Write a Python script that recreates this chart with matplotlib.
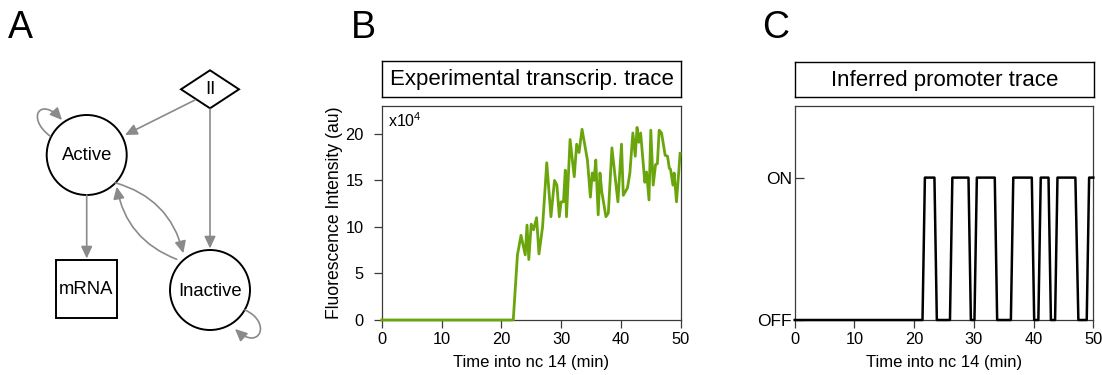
import matplotlib
matplotlib.use("Agg")
import matplotlib.pyplot as plt
from matplotlib.patches import Circle, Polygon, Rectangle, FancyArrowPatch
from matplotlib.path import Path

plt.rcParams['font.family'] = ['Liberation Sans', 'DejaVu Sans']
plt.rcParams['mathtext.fontset'] = 'custom'
plt.rcParams['mathtext.rm'] = 'Liberation Sans'
plt.rcParams['mathtext.it'] = 'Liberation Sans:italic'

# ---------------- data ----------------
trace_time = [0.0, 22.0, 22.7, 23.3, 24.0, 24.3, 24.6, 25.0, 25.4, 25.9, 26.3, 26.9,
              27.6, 28.3, 28.9, 29.3, 29.7, 30.0, 30.4, 30.7, 30.9, 31.5, 32.2, 32.6,
              33.0, 33.5, 34.4, 34.9, 35.2, 35.5, 35.8, 36.2, 36.5, 36.8, 37.5, 37.9,
              38.5, 39.5, 40.1, 40.4, 41.1, 41.5, 42.0, 42.4, 42.7, 43.0, 43.3, 44.0,
              44.3, 44.7, 45.0, 45.4, 45.8, 46.1, 46.4, 46.8, 47.4, 47.8, 48.1, 48.3,
              48.7, 48.9, 49.3, 49.9]
trace_fluor = [0.0, 0.0, 7.0, 9.1, 7.0, 10.2, 6.5, 10.3, 9.7, 11.0, 7.1, 10.0,
               16.9, 11.1, 15.0, 14.5, 11.1, 12.7, 12.7, 16.1, 11.1, 19.4, 15.4, 18.9,
               18.0, 20.5, 17.2, 13.2, 15.8, 15.0, 17.2, 11.3, 15.8, 13.8, 11.1, 11.5,
               18.5, 12.7, 18.9, 13.4, 14.2, 15.8, 20.1, 17.6, 20.7, 19.1, 20.1, 14.8,
               15.9, 12.9, 20.4, 14.5, 16.7, 16.8, 20.4, 20.1, 17.7, 17.6, 16.3, 16.2,
               14.5, 15.8, 12.7, 17.9]  # x10^4 au

promoter_time = [0.0, 21.4, 21.8, 23.4, 23.8, 26.0, 26.4, 29.1, 29.5, 30.1, 30.5,
                 33.5, 33.9, 36.2, 36.6, 39.7, 40.1, 40.8, 41.2, 42.5, 42.9, 43.6,
                 44.0, 47.0, 47.5, 48.9, 49.3, 50.0]
promoter_state = [0, 0, 1, 1, 0, 0, 1, 1, 0, 0, 1,
                  1, 0, 0, 1, 1, 0, 0, 1, 1, 0, 0,
                  1, 1, 0, 0, 1, 1]

x_ticks = [0, 10, 20, 30, 40, 50]
y_ticks_B = [0, 5, 10, 15, 20]
state_ticks = [0, 1]
state_labels = ['OFF', 'ON']

# ---------------- figure ----------------
W, H = 1102, 375
fig = plt.figure(figsize=(W / 100, H / 100), dpi=100)

def fbox(x0, y0, x1, y1):
    """pixel box (top-left origin) -> figure fraction rect"""
    return [x0 / W, (H - y1) / H, (x1 - x0) / W, (y1 - y0) / H]

spine_col = '#3a3a3a'
green = '#6aa50c'
gray = '#8a8a8a'

# ---------------- panel A: diagram ----------------
axA = fig.add_axes([0, 0, 300 / W, 1])
axA.set_xlim(0, 300)
axA.set_ylim(375, 0)
axA.axis('off')

node_lw = 1.4
axA.add_patch(Circle((86.7, 155), 40, fill=False, ec='black', lw=node_lw))
axA.text(86.7, 156, 'Active', ha='center', va='center', fontsize=13.3)
axA.add_patch(Circle((210, 290), 40, fill=False, ec='black', lw=node_lw))
axA.text(210, 291, 'Inactive', ha='center', va='center', fontsize=13.3)
axA.add_patch(Rectangle((55.7, 260), 61.6, 58.3, fill=False, ec='black', lw=node_lw))
axA.text(86.5, 290, 'mRNA', ha='center', va='center', fontsize=13.3)
axA.add_patch(Polygon([(181, 89.3), (210, 70.3), (239, 89.3), (210, 108.3)],
                      closed=True, fill=False, ec='black', lw=node_lw))
axA.text(210, 90, 'II', ha='center', va='center', fontsize=13.3)

astyle = '-|>,head_length=0.6,head_width=0.28'

def arrow(p0, p1, rad=0.0):
    a = FancyArrowPatch(p0, p1, arrowstyle=astyle, mutation_scale=12,
                        color=gray, lw=1.2, shrinkA=0, shrinkB=0,
                        connectionstyle=f'arc3,rad={rad}')
    axA.add_patch(a)

arrow((195, 100), (125, 135))
arrow((210, 109), (210, 248.5))
arrow((86.7, 195), (86.7, 258.5))
arrow((115, 182.7), (183.3, 253.3), rad=-0.29)
arrow((176.7, 259.3), (116.7, 186.7), rad=-0.28)

def loop(pts):
    path = Path(pts, [Path.MOVETO, Path.CURVE4, Path.CURVE4, Path.CURVE4])
    a = FancyArrowPatch(path=path, arrowstyle=astyle, mutation_scale=12,
                        color=gray, lw=1.2, shrinkA=0, shrinkB=0)
    axA.add_patch(a)

loop([(50, 136), (26, 118), (40, 96), (62, 120)])
loop([(245, 310), (272, 322), (260, 352), (235, 329)])

# panel letters
for lab, x in [('A', 8), ('B', 351), ('C', 762)]:
    fig.text(x / W, 1 - 38.5 / H, lab, fontsize=27, ha='left', va='baseline')

# ---------------- panel B ----------------
axB = fig.add_axes(fbox(381.7, 106, 680.7, 320))
axB.plot(trace_time, trace_fluor, color=green, lw=2.0, solid_joinstyle='round',
         clip_on=False, zorder=3)
axB.set_xlim(0, 50)
axB.set_ylim(0, 23)
axB.set_xticks(x_ticks)
axB.set_yticks(y_ticks_B)
axB.tick_params(axis='x', direction='out', length=5.8, width=0.9, color=spine_col,
                labelsize=11.8, pad=3)
axB.tick_params(axis='y', direction='out', length=5.8, width=0.9, color=spine_col,
                labelsize=11.8, pad=7)
for s in axB.spines.values():
    s.set_color(spine_col)
    s.set_linewidth(0.9)
axB.set_xlabel('Time into nc 14 (min)', fontsize=12)
axB.xaxis.set_label_coords(0.5, -0.165)
axB.set_ylabel('Fluorescence Intensity (au)', fontsize=12.7)
axB.yaxis.set_label_coords(-0.13, 0.5)
axB.text(0.021, 0.903, r'x10$^{4}$', transform=axB.transAxes, fontsize=11.5,
         ha='left', va='baseline')

# title box B
tB = fig.add_axes(fbox(382.3, 60.7, 681, 96.7))
tB.set_xticks([]); tB.set_yticks([])
for s in tB.spines.values():
    s.set_color('black'); s.set_linewidth(1.0)
tB.text(0.5, 0.47, 'Experimental transcrip. trace', ha='center', va='center',
        fontsize=16, transform=tB.transAxes)

# ---------------- panel C ----------------
axC = fig.add_axes(fbox(794.7, 105.7, 1093.3, 320))
axC.plot(promoter_time, promoter_state, color='black', lw=1.8, clip_on=False, zorder=3)
axC.set_xlim(0, 50)
axC.set_ylim(0, 1.505)
axC.set_xticks(x_ticks)
axC.set_yticks(state_ticks)
axC.set_yticklabels(state_labels)
axC.tick_params(axis='x', direction='out', length=5.8, width=0.9, color=spine_col,
                labelsize=11.8, pad=3)
axC.tick_params(axis='y', direction='in', length=6.5, width=0.9, color=spine_col,
                labelsize=12.5, pad=2)
for s in axC.spines.values():
    s.set_color(spine_col)
    s.set_linewidth(0.9)
axC.set_xlabel('Time into nc 14 (min)', fontsize=12)
axC.xaxis.set_label_coords(0.5, -0.165)

tC = fig.add_axes(fbox(795, 62.3, 1094, 97.3))
tC.set_xticks([]); tC.set_yticks([])
for s in tC.spines.values():
    s.set_color('black'); s.set_linewidth(1.0)
tC.text(0.5, 0.47, 'Inferred promoter trace', ha='center', va='center',
        fontsize=16, transform=tC.transAxes)

fig.savefig('out.png', dpi=100)
